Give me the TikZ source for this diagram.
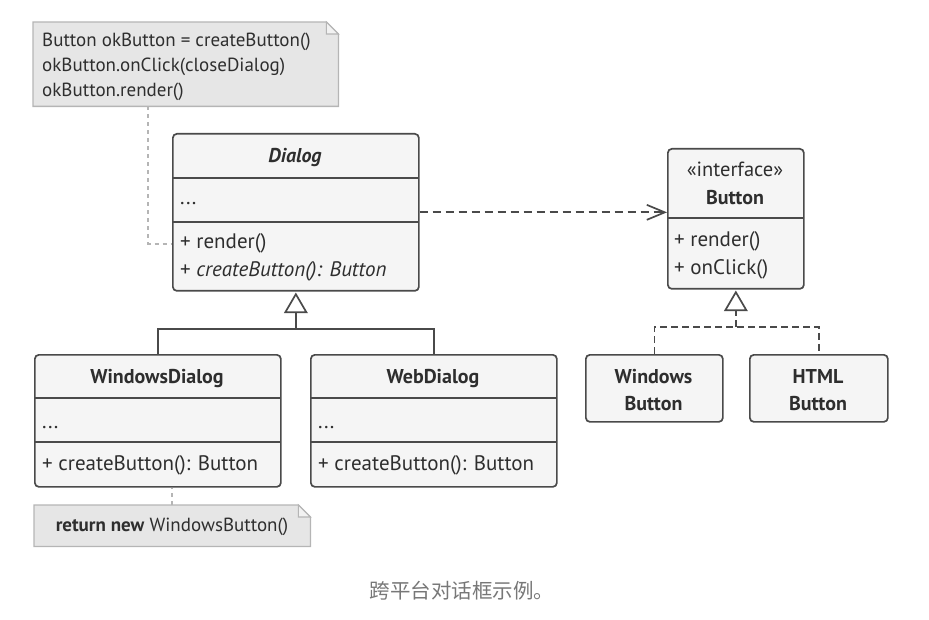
\documentclass[tikz,border=0pt]{standalone}
\usepackage{fontspec}
\setmainfont{PT Sans}
\newfontfamily\cjk{Noto Sans CJK SC}
\usetikzlibrary{arrows.meta}
\definecolor{ln}{HTML}{4A4A4A}
\definecolor{tx}{HTML}{2E2E2E}
\definecolor{boxfill}{HTML}{F5F5F5}
\definecolor{notefill}{HTML}{E6E6E6}
\definecolor{foldfill}{HTML}{F2F2F2}
\definecolor{noteline}{HTML}{B5B5B5}
\definecolor{capc}{HTML}{777777}
\begin{document}
\begin{tikzpicture}[x=1pt,y=-1pt,
  box/.style={draw=ln, line width=1.7pt, fill=boxfill, rounded corners=4pt, anchor=north west, inner sep=0pt},
  div/.style={draw=ln, line width=1.7pt},
  txt/.style={text=tx, font=\fontsize{21}{24}\selectfont, inner sep=0pt, anchor=base west},
  ctxt/.style={text=tx, font=\fontsize{20.5}{24}\selectfont, inner sep=0pt, anchor=base},
  btxt/.style={text=tx, font=\fontsize{20}{24}\selectfont\bfseries, inner sep=0pt, anchor=base},
  ntxt/.style={text=tx, font=\fontsize{19}{22}\selectfont, inner sep=0pt, anchor=base west},
  notearea/.style={anchor=north west, inner sep=0pt},
  noteshape/.style={draw=noteline, line width=1.3pt, fill=notefill},
  notelink/.style={draw=noteline, line width=1.5pt, dash pattern=on 4pt off 4pt},
  inherit/.style={draw=ln, line width=1.7pt},
  realize/.style={draw=ln, line width=1.7pt, dash pattern=on 7pt off 4pt},
  trihead/.style={draw=ln, line width=1.7pt, fill=white, line join=miter},
  dep/.style={draw=ln, line width=1.7pt, dash pattern=on 8pt off 5pt, -{Straight Barb[length=18pt, width=15pt, line width=1.7pt]}}
]
\useasboundingbox (0,0) rectangle (929,620);

% ---------- note 1 ----------
\node[notearea, minimum width=305pt, minimum height=84pt] (note1) at (33,22) {};
\path[noteshape] (note1.south west) -- (note1.north west) -- ([xshift=-12pt]note1.north east)
  -- ([yshift=-12pt]note1.north east) -- (note1.south east) -- cycle;
\path[draw=noteline, line width=1.1pt, fill=foldfill] ([xshift=-12pt]note1.north east) -- ([xshift=-12pt,yshift=-12pt]note1.north east) -- ([yshift=-12pt]note1.north east) -- cycle;
\node[ntxt] (n1a) at (42,46.5) {Button okButton = createButton()};
\node[ntxt] (n1b) at (42,71.5) {okButton.onClick(closeDialog)};
\node[ntxt] (n1c) at (42,96.5) {okButton.render()};

% ---------- Dialog ----------
\node[box, minimum width=246pt, minimum height=157pt] (dialog) at (172,133) {};
\draw[div] (172,178) -- (418,178);
\draw[div] (172,222) -- (418,222);
\node[btxt, font=\fontsize{20}{24}\selectfont\bfseries\itshape] (dt) at (295,163) {Dialog};
\node[txt] (dd) at (180,205) {...};
\node[txt] (dm1) at (180,249) {+ render()};
\node[txt] (dm2) at (180,277) {+ \textit{createButton(): Button}};

% ---------- Button interface ----------
\node[box, minimum width=136pt, minimum height=140pt] (iface) at (667,148) {};
\draw[div] (667,218) -- (803,218);
\node[ctxt] (it1) at (735,177) {«interface»};
\node[btxt] (it2) at (735,205) {Button};
\node[txt] (im1) at (674,247) {+ render()};
\node[txt] (im2) at (674,275) {+ onClick()};

% ---------- WindowsDialog ----------
\node[box, minimum width=246pt, minimum height=132pt] (wdlg) at (34,354) {};
\draw[div] (34,398) -- (280,398);
\draw[div] (34,442) -- (280,442);
\node[btxt] (wt) at (157,383) {WindowsDialog};
\node[txt] (wd) at (42,428) {...};
\node[txt] (wm) at (42,470) {+ createButton(): Button};

% ---------- WebDialog ----------
\node[box, minimum width=246pt, minimum height=132pt] (webdlg) at (310,354) {};
\draw[div] (310,398) -- (556,398);
\draw[div] (310,442) -- (556,442);
\node[btxt] (bt) at (433,383) {WebDialog};
\node[txt] (bd) at (318,428) {...};
\node[txt] (bm) at (318,470) {+ createButton(): Button};

% ---------- concrete buttons ----------
\node[box, minimum width=137pt, minimum height=67pt] (wbtn) at (585,354) {};
\node[btxt] (wb1) at (653.5,383) {Windows};
\node[btxt] (wb2) at (653.5,410) {Button};
\node[box, minimum width=138pt, minimum height=67pt] (hbtn) at (749,354) {};
\node[btxt] (hb1) at (818,383) {HTML};
\node[btxt] (hb2) at (818,410) {Button};

% ---------- note 2 ----------
\node[notearea, minimum width=276pt, minimum height=41pt] (note2) at (34,505) {};
\path[noteshape] (note2.south west) -- (note2.north west) -- ([xshift=-12pt]note2.north east)
  -- ([yshift=-12pt]note2.north east) -- (note2.south east) -- cycle;
\path[draw=noteline, line width=1.1pt, fill=foldfill] ([xshift=-12pt]note2.north east) -- ([xshift=-12pt,yshift=-12pt]note2.north east) -- ([yshift=-12pt]note2.north east) -- cycle;
\node[ctxt, font=\fontsize{19}{22}\selectfont] (n2) at (172,531.5) {\textbf{return new} WindowsButton()};

% ---------- connectors ----------
\draw[notelink] ([xshift=115pt]note1.south west) |- ([yshift=-31.5pt]dialog.west);
\draw[notelink] (note2.north) -- (note2.north |- wdlg.south);

% Dialog inheritance
\path (dialog.south) ++(0,37) coordinate (j1);
\path (dialog.south) ++(0,2.5) coordinate (t1);
\path (t1) ++(0,18) coordinate (t1b);
\draw[inherit] (wdlg.north) |- (j1) -| (webdlg.north);
\draw[inherit] (j1) -- (t1b);
\draw[trihead] (t1) -- ([xshift=-10.5pt]t1b) -- ([xshift=10.5pt]t1b) -- cycle;

% Button realization
\path (iface.south) ++(0,37) coordinate (j2);
\path (iface.south) ++(0,2.5) coordinate (t2);
\path (t2) ++(0,18) coordinate (t2b);
\draw[realize] (wbtn.north) |- (j2) -| (hbtn.north);
\draw[realize] (j2) -- (t2b);
\draw[trihead] (t2) -- ([xshift=-10.5pt]t2b) -- ([xshift=10.5pt]t2b) -- cycle;

\draw[dep] (dialog.east) -- (dialog.east -| iface.west);

% ---------- caption ----------
\node[text=capc, font=\cjk\fontsize{20.5}{24}\selectfont, inner sep=0pt] (cap) at (462,591) {跨平台对话框示例。};
\end{tikzpicture}
\end{document}
